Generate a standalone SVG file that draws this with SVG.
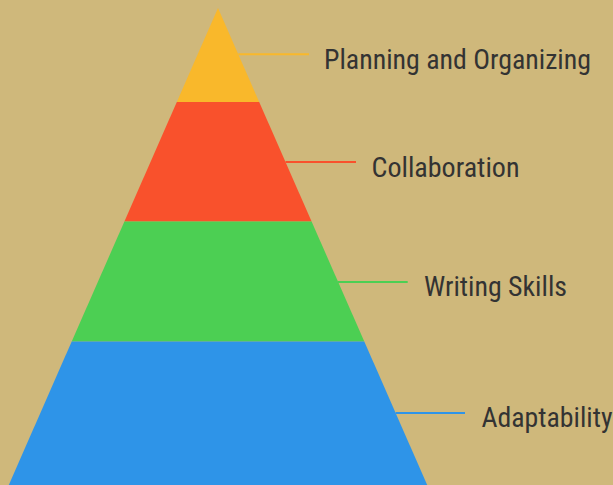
<svg xmlns="http://www.w3.org/2000/svg" width="613" height="485" viewBox="0 0 613 485">
  <style>
    .lbl { font-family: "Roboto Condensed", Roboto, "Liberation Sans", sans-serif; font-size: 28px; fill: #333333; }
    .conn { stroke-width: 2; fill: none; }
  </style>
  <rect x="0" y="0" width="613" height="485" fill="#CFB87B"/>
  <g id="layer-planning">
    <polygon points="218,8 259.2,102 176.8,102" fill="#F9B82B"/>
  </g>
  <g id="layer-collaboration">
    <polygon points="176.8,102 259.2,102 311.6,221.5 124.4,221.5" fill="#F9512C"/>
  </g>
  <g id="layer-writing">
    <polygon points="124.4,221.5 311.6,221.5 364.3,341.5 71.7,341.5" fill="#4CCF53"/>
  </g>
  <g id="layer-adaptability">
    <polygon points="71.7,341.5 364.3,341.5 427.2,485 8.8,485" fill="#2E94E8"/>
  </g>
  <g id="connectors">
    <line class="conn" x1="238.3" y1="54.3" x2="309" y2="54.3" stroke="#F9B82B"/>
    <line class="conn" x1="285.5" y1="162" x2="356" y2="162" stroke="#F9512C"/>
    <line class="conn" x1="338" y1="282" x2="407.7" y2="282" stroke="#4CCF53"/>
    <line class="conn" x1="395.6" y1="413" x2="465" y2="413" stroke="#2E94E8"/>
  </g>
  <g id="label-planning">
    <text class="lbl" x="324" y="69" textLength="267" lengthAdjust="spacingAndGlyphs">Planning and Organizing</text>
  </g>
  <g id="label-collaboration">
    <text class="lbl" x="371.5" y="176.7" textLength="148" lengthAdjust="spacingAndGlyphs">Collaboration</text>
  </g>
  <g id="label-writing">
    <text class="lbl" x="424" y="295.5" textLength="143" lengthAdjust="spacingAndGlyphs">Writing Skills</text>
  </g>
  <g id="label-adaptability">
    <text class="lbl" x="481.5" y="426.5" textLength="131" lengthAdjust="spacingAndGlyphs">Adaptability</text>
  </g>
</svg>
